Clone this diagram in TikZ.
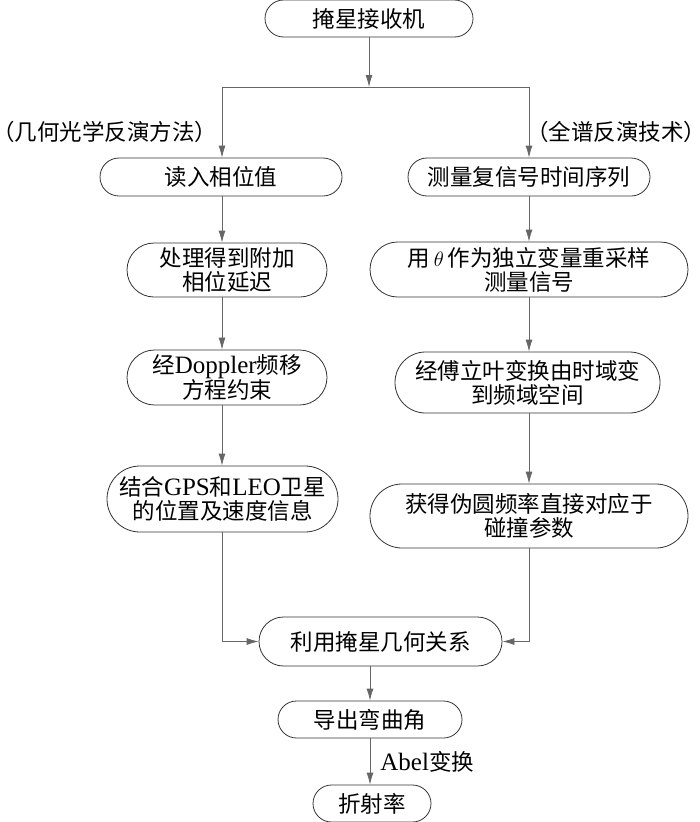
\documentclass[tikz,border=0pt]{standalone}
\usepackage{fontspec}
\setmainfont{Liberation Serif}
\newfontfamily\cjk{Noto Sans CJK SC}
\usetikzlibrary{shapes.misc,arrows.meta}
\newcommand\lat[1]{{\rmfamily\fontsize{25}{24}\selectfont #1}}
\tikzset{
	blk/.style={draw=black!80, line width=0.8pt, rounded rectangle, inner sep=0pt, align=center, font=\cjk\fontsize{22.5}{24}\selectfont},
	arr/.style={draw=black!60, line width=0.8pt, -{Latex[length=12pt,width=7pt]}},
	ln/.style={draw=black!60, line width=0.8pt},
	lbl/.style={inner sep=0pt, font=\cjk\fontsize{22.5}{24}\selectfont}
}

\begin{document}
\begin{tikzpicture}[x=1pt,y=-1pt]
		%%%%% START %%%%%
		\useasboundingbox (0,0) rectangle (700,822);
		
		\node[blk, minimum width=208pt, minimum height=37pt] (rx) at (369,18.5) {掩星接收机};
		
		\coordinate (jc) at (369,87);
		\coordinate (jl) at (222,87);
		\coordinate (jr) at (529,87);
		
		\node[lbl] (geo) at (105,132) {（几何光学反演方法）};
		\node[lbl] (spec) at (616,132) {（全谱反演技术）};
		
		% left column
		\node[blk, minimum width=242pt, minimum height=38pt] (l1) at (221,177) {读入相位值};
		\node[blk, minimum width=200pt, minimum height=54pt] (l2) at (227,270) {处理得到附加\\相位延迟};
		\node[blk, minimum width=200pt, minimum height=55pt] (l3) at (227,377.5) {经\lat{Doppler}频移\\方程约束};
		\node[blk, minimum width=231pt, minimum height=66pt] (l4) at (222.5,499) {结合\lat{GPS}和\lat{LEO}卫星\\的位置及速度信息};
		
		% right column
		\node[blk, minimum width=242pt, minimum height=38pt] (r1) at (529,177) {测量复信号时间序列};
		\node[blk, minimum width=318pt, minimum height=55pt] (r2) at (529,269.5) {用\,$\theta$\,作为独立变量重采样\\测量信号};
		\node[blk, minimum width=265pt, minimum height=61pt] (r3) at (527.5,382.5) {经傅立叶变换由时域变\\到频域空间};
		\node[blk, minimum width=318pt, minimum height=64pt] (r4) at (529,516) {获得伪圆频率直接对应于\\碰撞参数};
		
		% bottom
		\node[blk, minimum width=243pt, minimum height=49pt] (b1) at (380.5,641.5) {利用掩星几何关系};
		\node[blk, minimum width=184pt, minimum height=37pt] (b2) at (370,719.5) {导出弯曲角};
		\node[blk, minimum width=118pt, minimum height=37pt] (b3) at (372,803.5) {折射率};
		
		\draw[arr] (rx.south -| jc) -- (jc);
		\draw[ln] (jl) -- (jr);
		\draw[arr] (jl) -- (jl |- l1.north);
		\draw[arr] (jr) -- (jr |- r1.north);
		
		\draw[arr] (l1.south -| jl) -- (jl |- l2.north);
		\draw[arr] (l2.south -| jl) -- (jl |- l3.north);
		\draw[arr] (l3.south -| jl) -- (jl |- l4.north);
		
		\draw[arr] (r1.south) -- (r1.south |- r2.north);
		\draw[arr] (r2.south) -- (r2.south |- r3.north);
		\draw[arr] (r3.south -| r2.south) -- (r2.south |- r4.north);
		
		\draw[arr] (l4.south) |- (b1.west);
		\draw[arr] (r4.south) |- (b1.east);
		
		\draw[arr] (b2.north |- b1.south) -- (b2.north);
		\draw[arr] (b2.south) -- (b2.south |- b3.north) node[midway, right=10pt, lbl] (abel) {\lat{Abel}变换};
		
		%%%%% END %%%%%
	\end{tikzpicture}
\end{document}
